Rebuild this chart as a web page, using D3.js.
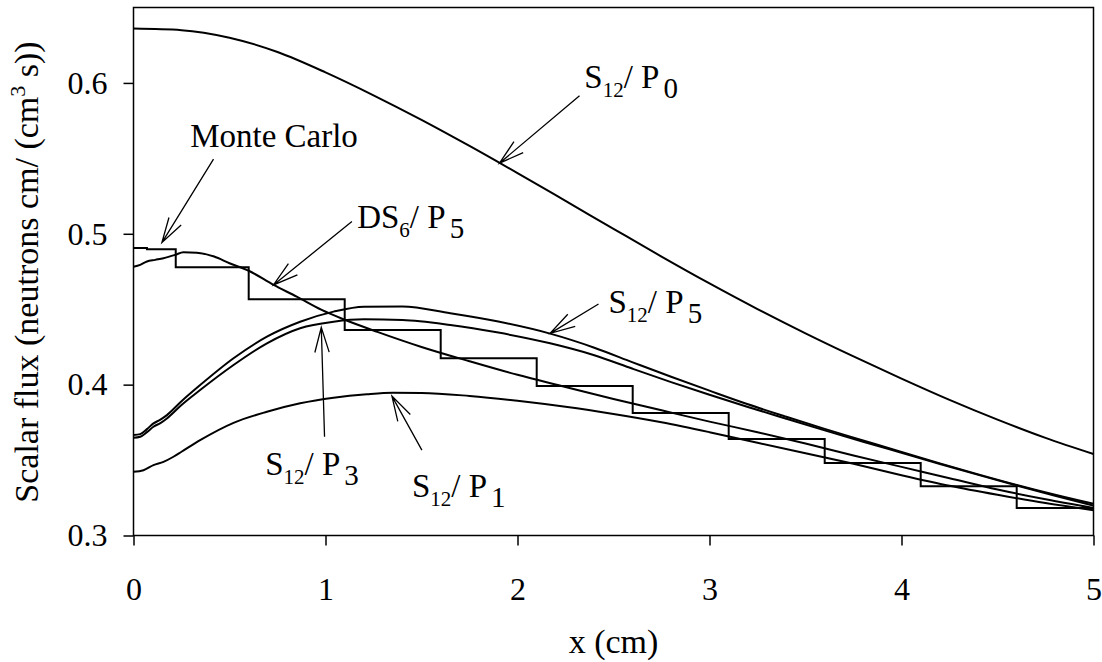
<!DOCTYPE html>
<html><head><meta charset="utf-8">
<script src="https://cdn.jsdelivr.net/npm/d3@7"></script>
<style>
body{margin:0;background:#fff}
svg{display:block}
text{font-family:"Liberation Serif","Times New Roman",serif;fill:#000;white-space:pre}
</style>
</head><body>
<svg id="chart" width="1102" height="662"></svg>
<script>
// ---- data ----
const xTicks = [0, 1, 2, 3, 4, 5];
const yTicks = [0.3, 0.4, 0.5, 0.6];

// S12/P0
const p0X = [0,0.25,0.5,0.75,1.0,1.25,1.5,1.75,2.0,2.25,2.5,2.75,3.0,3.25,3.5,3.75,4.0,4.25,4.5,4.75,5.0];
const p0Y = [0.6360,0.6350,0.6300,0.6205,0.6070,0.5918,0.5755,0.5582,0.5402,0.5218,0.5033,0.4849,0.4671,0.4501,0.4340,0.4187,0.4040,0.3899,0.3768,0.3647,0.3540];

// S12/P5 and S12/P3
const p53X = [0,0.035,0.07,0.104,0.14,0.174,0.25,0.347,0.521,0.695,0.868,1.042,1.2,1.4,1.65,1.9,2.17,2.4,2.6,2.8,3.0,3.2,3.4,3.6,3.8,4.0,4.2,4.4,4.6,4.8,5.0];
const p5Y = [0.3666,0.3672,0.3705,0.3743,0.3768,0.3798,0.3890,0.3997,0.4175,0.4318,0.4417,0.4484,0.4517,0.4518,0.4473,0.4418,0.4338,0.4245,0.4148,0.4052,0.3960,0.3870,0.3787,0.3707,0.3630,0.3553,0.3478,0.3405,0.3335,0.3270,0.3210];
const p3Y = [0.3648,0.3655,0.3685,0.3721,0.3745,0.3776,0.3865,0.3964,0.4130,0.4274,0.4374,0.4417,0.4433,0.4429,0.4396,0.4345,0.4274,0.4195,0.4105,0.4017,0.3933,0.3852,0.3774,0.3697,0.3622,0.3548,0.3474,0.3402,0.3331,0.3263,0.3198];

// S12/P1
const p1X = [0,0.052,0.104,0.156,0.208,0.25,0.347,0.521,0.695,0.868,1.042,1.215,1.35,1.5,1.75,2.0,2.25,2.5,2.75,3.0,3.25,3.5,3.75,4.0,4.25,4.5,4.75,5.0];
const p1Y = [0.3422,0.3433,0.3466,0.3488,0.3522,0.3555,0.3632,0.3747,0.3820,0.3876,0.3913,0.3936,0.3946,0.3945,0.3925,0.3893,0.3853,0.3805,0.3750,0.3685,0.3615,0.3545,0.3475,0.3400,0.3330,0.3270,0.3215,0.3168];

// DS6/P5
const dsX = [0,0.035,0.07,0.113,0.156,0.217,0.26,0.33,0.42,0.5,0.6,0.73,0.85,0.98,1.1,1.27,1.5,1.75,2.0,2.25,2.5,2.75,3.0,3.25,3.5,3.75,4.0,4.25,4.5,4.75,5.0];
const dsY = [0.4782,0.4794,0.4816,0.4827,0.4838,0.4860,0.4878,0.4875,0.4849,0.4805,0.4755,0.4661,0.4583,0.4495,0.4430,0.4350,0.4250,0.4155,0.4065,0.3985,0.3905,0.3830,0.3755,0.3685,0.3610,0.3530,0.3455,0.3380,0.3305,0.3240,0.3182];

// Monte Carlo histogram
const mcEdges = [0,0.07,0.22,0.6,1.1,1.6,2.1,2.6,3.1,3.6,4.1,4.6,5.0];
const mcFlux  = [0.4905,0.4898,0.4778,0.4566,0.4362,0.4175,0.3991,0.3812,0.3639,0.3480,0.3327,0.3183];

// annotations (data coordinates): label baseline-left, arrow tail, arrow tip
const annNames = ["Monte Carlo","DS6/P5","S12/P0","S12/P5","S12/P3","S12/P1"];
const annLabelPos = [[0.295,0.5577],[1.165,0.5037],[2.348,0.5966],[2.474,0.4475],[0.686,0.3400],[1.450,0.3256]];
const annTail = [[0.4167,0.5495],[1.1375,0.5081],[2.323,0.5915],[2.422,0.4535],[0.995,0.3654],[1.502,0.3566]];
const annTip  = [[0.148,0.4942],[0.729,0.4661],[1.906,0.5468],[2.170,0.4340],[0.978,0.4380],[1.346,0.3924]];

// ---- chart ----
const svg = d3.select('#chart');
const M = {l:133.5, r:1093.5, t:7.5, b:535.5};
const x = d3.scaleLinear().domain([0,5]).range([M.l, M.r]);
const y = d3.scaleLinear().domain([0.3,0.65]).range([M.b, M.t]);
const FONT = '"Liberation Serif","Times New Roman",serif';

// axes
const gx = svg.append('g').attr('transform', `translate(0,${M.b})`)
  .call(d3.axisBottom(x).tickValues(xTicks).tickFormat(d3.format('d')).tickSize(10).tickPadding(32));
gx.select('.domain').remove();
gx.attr('font-family', FONT).attr('font-size', 32);
gx.selectAll('line').attr('stroke', '#000').attr('stroke-width', 1.5);

const gy = svg.append('g').attr('transform', `translate(${M.l},0)`)
  .call(d3.axisLeft(y).tickValues(yTicks).tickFormat(d3.format('.1f')).tickSize(10).tickPadding(16));
gy.select('.domain').remove();
gy.attr('font-family', FONT).attr('font-size', 32);
gy.selectAll('line').attr('stroke', '#000').attr('stroke-width', 1.5);

// frame
svg.append('rect').attr('x', M.l).attr('y', M.t).attr('width', M.r - M.l).attr('height', M.b - M.t)
  .attr('fill', 'none').attr('stroke', '#000').attr('stroke-width', 1.5);

// series
const line = d3.line().x(d => x(d[0])).y(d => y(d[1])).curve(d3.curveMonotoneX);
const series = [
  d3.zip(p0X, p0Y), d3.zip(p53X, p5Y), d3.zip(p53X, p3Y), d3.zip(p1X, p1Y), d3.zip(dsX, dsY)
];
svg.append('g').selectAll('path').data(series).join('path')
  .attr('d', line).attr('fill', 'none').attr('stroke', '#000').attr('stroke-width', 2);

const mcPts = mcFlux.map((v, i) => [mcEdges[i], v]).concat([[mcEdges[mcEdges.length-1], mcFlux[mcFlux.length-1]]]);
svg.append('path').datum(mcPts)
  .attr('d', d3.line().x(d => x(d[0])).y(d => y(d[1])).curve(d3.curveStepAfter))
  .attr('fill', 'none').attr('stroke', '#000').attr('stroke-width', 2);

// arrows
const gA = svg.append('g');
annTail.forEach((t, i) => {
  const x1 = x(t[0]), y1 = y(t[1]), x2 = x(annTip[i][0]), y2 = y(annTip[i][1]);
  const ang = Math.atan2(y1 - y2, x1 - x2), L = 26, a = 16 * Math.PI / 180;
  const p = d3.path();
  p.moveTo(x1, y1); p.lineTo(x2, y2);
  p.moveTo(x2 + L * Math.cos(ang + a), y2 + L * Math.sin(ang + a));
  p.lineTo(x2, y2);
  p.lineTo(x2 + L * Math.cos(ang - a), y2 + L * Math.sin(ang - a));
  gA.append('path').attr('d', p.toString()).attr('fill', 'none').attr('stroke', '#000').attr('stroke-width', 1.3);
});

// labels
annNames.forEach((name, i) => {
  const t = svg.append('text').attr('x', x(annLabelPos[i][0])).attr('y', y(annLabelPos[i][1])).attr('font-size', 33);
  if (name === 'Monte Carlo') { t.text(name); return; }
  const m = name.match(/^([A-Z]+)(\d+)\/P(\d)$/);
  t.append('tspan').text(m[1]);
  t.append('tspan').attr('font-size', 21).attr('dy', 9).text(m[2]);
  t.append('tspan').attr('dy', -9).text('/ P');
  t.append('tspan').attr('font-size', 29).attr('dx', 4).attr('dy', 10).text(m[3]);
});

// axis titles
svg.append('text').attr('x', (M.l + M.r) / 2).attr('y', 653).attr('text-anchor', 'middle')
  .attr('font-size', 34).text('x (cm)');
const yt = svg.append('text').attr('transform', 'translate(38,272) rotate(-90)')
  .attr('text-anchor', 'middle').attr('font-size', 34);
yt.append('tspan').text('Scalar flux (neutrons cm/ (cm');
yt.append('tspan').attr('font-size', 22).attr('dy', -13).text('3');
yt.append('tspan').attr('dy', 13).text(' s))');
</script>
</body></html>
